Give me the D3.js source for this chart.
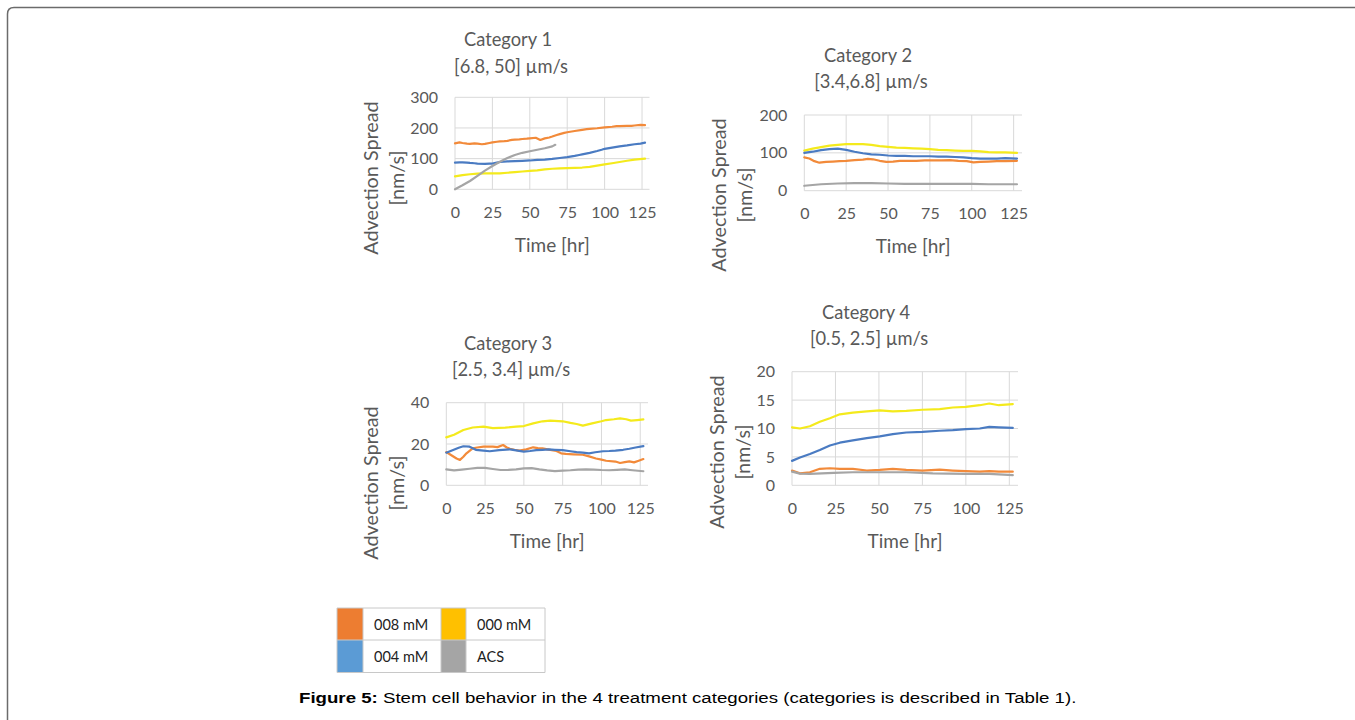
<!DOCTYPE html>
<html><head><meta charset="utf-8">
<script src="https://cdn.jsdelivr.net/npm/d3@7"></script>
<style>body{margin:0;background:#fff;overflow:hidden} svg text{font-family:Lato,"Open Sans",sans-serif}</style>
</head><body><svg id="c" width="1355" height="720"></svg>
<script>
// ---------- data ----------
const timeTicks = [0, 25, 50, 75, 100, 125];
const legendNames = ["008 mM", "000 mM", "004 mM", "ACS"];
const titles = [
  ["Category 1", "[6.8, 50] \u00b5m/s"],
  ["Category 2", "[3.4,6.8] \u00b5m/s"],
  ["Category 3", "[2.5, 3.4] \u00b5m/s"],
  ["Category 4", "[0.5, 2.5] \u00b5m/s"]
];
const yTicks1 = [0, 100, 200, 300];
const yTicks2 = [0, 100, 200];
const yTicks3 = [0, 20, 40];
const yTicks4 = [0, 5, 10, 15, 20];

// Category 1 [time hr, spread nm/s]
const c1Orange = [[0,150],[3,153],[5,151],[8,149],[10,148],[13,150],[15,149],[18,147],[20,148],[23,151],[25,153],[28,155],[30,156],[33,157],[35,158],[38,161],[40,162],[43,163],[45,164],[48,165],[50,166],[54,168],[57,161],[60,166],[63,169],[65,172],[68,177],[70,180],[73,184],[75,186],[80,190],[85,194],[88,196],[90,197],[95,199],[100,202],[105,204],[108,206],[110,206],[115,207],[118,207],[120,208],[124,210],[127,209]];
const c1Blue   = [[0,87],[3,88],[5,88],[8,87],[10,86],[13,85],[15,84],[20,83],[23,84],[25,84],[28,87],[30,89],[35,91],[40,92],[45,93],[50,94],[55,96],[60,97],[65,99],[70,102],[75,105],[80,109],[83,112],[85,114],[90,119],[95,125],[98,129],[100,132],[105,136],[110,140],[115,143],[120,147],[124,149],[127,152]];
const c1Yellow = [[0,42],[5,46],[10,49],[15,51],[20,52],[25,52],[30,52],[35,54],[40,56],[45,58],[50,60],[55,62],[60,65],[65,67],[70,68],[75,69],[80,70],[85,71],[90,73],[95,77],[100,81],[105,85],[110,89],[115,93],[120,97],[127,100]];
const c1Gray   = [[0,0],[5,13],[10,27],[15,44],[20,61],[25,76],[30,90],[35,102],[40,112],[45,119],[50,124],[55,129],[60,134],[65,140],[67,145]];

// Category 2
const c2Orange = [[0,88],[3,85],[6,78],[9,74],[13,76],[17,77],[21,78],[25,79],[30,81],[35,82],[38,84],[41,83],[45,79],[49,76],[53,77],[57,79],[62,79],[67,79],[72,80],[77,80],[82,80],[87,81],[92,79],[97,78],[101,75],[105,76],[110,77],[115,78],[120,78],[127,79]];
const c2Blue   = [[0,100],[5,103],[10,107],[15,110],[20,111],[25,108],[30,103],[35,99],[40,96],[45,95],[50,93],[55,92],[60,92],[65,91],[70,91],[75,91],[80,90],[85,90],[90,89],[95,88],[100,86],[105,85],[110,85],[115,85],[120,86],[127,85]];
const c2Yellow = [[0,106],[5,111],[10,115],[15,119],[20,121],[25,123],[30,123],[35,123],[40,121],[45,118],[50,116],[55,114],[60,113],[65,112],[70,111],[75,110],[80,108],[85,107],[90,106],[95,105],[100,105],[105,104],[110,102],[115,101],[120,101],[127,100]];
const c2Gray   = [[0,13],[5,15],[10,17],[20,19],[30,20],[40,20],[50,19],[60,18],[75,18],[90,18],[100,18],[110,17],[127,17]];

// Category 3
const c3Orange = [[0,16.1],[3,14.7],[6.6,13],[8.8,12.3],[11,13.8],[13,15.5],[17,17.9],[20,18.3],[24,18.7],[30,18.7],[33,18.5],[36.6,19.5],[39,18.3],[41,17.7],[44,17.2],[47,16.8],[51.6,17.4],[56,18.4],[59,18],[62,17.9],[66,17.3],[71,16.6],[74,15.5],[77,15.2],[82,15],[88,14.8],[92,14],[96.5,13],[100,12.4],[103,11.9],[109,11.5],[112,10.8],[115,11.2],[118,11.6],[121,11.1],[124,11.9],[127,12.7]];
const c3Blue   = [[0,15.8],[4,17],[8,18.2],[11,18.9],[15,18.7],[19,17.2],[24,16.8],[28,16.5],[34,17],[41,17.4],[46,16.8],[50,16.3],[54,16.6],[58,17],[62,17.2],[66,17.4],[70,17.2],[75,17],[80,16.5],[84,16.1],[88,15.8],[92,15.5],[96,16],[101,16.5],[105,16.6],[109,16.8],[114,17.2],[118,17.7],[122,18.3],[127,19]];
const c3Yellow = [[0,23.2],[5,24.5],[11,26.8],[17,28],[24,28.4],[30,27.7],[38,27.9],[45,28.4],[50,28.7],[56,30],[62,31],[67,31.3],[75,31],[80,30.2],[84,29.7],[88,28.9],[94,30],[100,31],[103,31.6],[108,32],[112,32.4],[116,32],[119,31.3],[123,31.6],[127,31.9]];
const c3Gray   = [[0,7.7],[5,7.2],[10,7.6],[15,8],[20,8.4],[25,8.4],[30,7.9],[35,7.4],[40,7.5],[45,7.7],[50,8.2],[55,8.3],[60,7.7],[65,7.2],[70,6.9],[75,7.1],[80,7.3],[85,7.6],[90,7.7],[95,7.6],[100,7.4],[105,7.3],[110,7.5],[115,7.7],[120,7.3],[127,6.8]];

// Category 4
const c4Orange = [[0,2.6],[4.6,2.1],[10.3,2.3],[16,2.9],[21.8,3],[27.5,2.9],[35,2.9],[43,2.6],[50.5,2.7],[58,2.9],[65.7,2.7],[75,2.6],[85,2.75],[92.5,2.6],[100,2.5],[108,2.4],[113.5,2.5],[119,2.4],[127,2.4]];
const c4Blue   = [[0,4.3],[4.6,4.9],[10.3,5.5],[16,6.2],[21.8,7],[27.5,7.5],[35,7.9],[43,8.3],[50.5,8.6],[58,9],[65.7,9.3],[75,9.4],[85,9.6],[92.5,9.7],[100,9.9],[108,10],[113.5,10.3],[119,10.2],[127,10.1]];
const c4Yellow = [[0,10.2],[4.6,10],[10.3,10.4],[16,11.2],[21.8,11.8],[27.5,12.5],[35,12.8],[43,13],[50.5,13.2],[58,13],[65.7,13.1],[75,13.3],[85,13.4],[92.5,13.7],[100,13.8],[108,14.1],[113.5,14.4],[119,14.1],[127,14.3]];
const c4Gray   = [[0,2.4],[4.6,2.05],[10.3,2],[24,2.2],[35,2.3],[50.5,2.3],[65.7,2.3],[81,2.1],[100,2],[113.5,2],[127,1.8]];

// ---------- styles & layout ----------
const lineColors = {orange:"#F28A3A", blue:"#4A7BC2", yellow:"#F4EA1C", gray:"#A5A5A5"};
const swatchColors = ["#ED7D31", "#FFC000", "#5B9BD5", "#A5A5A5"];
const textColor = "#595959";
const gridColor = "#D9D9D9";

const svg = d3.select("#c");

// frame
svg.append("path")
  .attr("d", "M7.5,730 V14 Q7.5,7.5 14,7.5 H1365")
  .attr("fill", "none").attr("stroke", "#6b6b6b").attr("stroke-width", 1.5);

const charts = [
  {title: titles[0], yTicks: yTicks1, yMax: 300, series: [c1Orange, c1Blue, c1Yellow, c1Gray],
   x0: 455, x1: 649.5, y0: 97.3, y1: 189.3, tx: 508, ty: 39, ty2: 66, ax: 370, ay: 178},
  {title: titles[1], yTicks: yTicks2, yMax: 200, series: [c2Orange, c2Blue, c2Yellow, c2Gray],
   x0: 804.3, x1: 1022, y0: 115, y1: 190.7, tx: 868, ty: 55, ty2: 81, ax: 718, ay: 195},
  {title: titles[2], yTicks: yTicks3, yMax: 40, series: [c3Orange, c3Blue, c3Yellow, c3Gray],
   x0: 446.3, x1: 648, y0: 402.7, y1: 485.3, tx: 508, ty: 343, ty2: 369, ax: 370, ay: 483},
  {title: titles[3], yTicks: yTicks4, yMax: 20, series: [c4Orange, c4Blue, c4Yellow, c4Gray],
   x0: 792, x1: 1018, y0: 371.7, y1: 485.3, tx: 866, ty: 312, ty2: 338, ax: 716, ay: 452}
];
const colorKeys = ["orange", "blue", "yellow", "gray"];
const drawOrder = [0, 2, 1, 3];

charts.forEach(c => {
  const g = svg.append("g");
  const x = d3.scaleLinear().domain([0, 130]).range([c.x0, c.x1]);
  const y = d3.scaleLinear().domain([0, c.yMax]).range([c.y1, c.y0]);

  // gridlines
  g.selectAll(".hg").data(c.yTicks).join("line")
    .attr("x1", x(0)).attr("x2", x(130)).attr("y1", d => y(d)).attr("y2", d => y(d))
    .attr("stroke", gridColor).attr("stroke-width", 1);
  g.selectAll(".vg").data(timeTicks).join("line")
    .attr("x1", d => x(d)).attr("x2", d => x(d)).attr("y1", y(c.yMax)).attr("y2", y(0))
    .attr("stroke", gridColor).attr("stroke-width", 1);

  // axes (labels only)
  const yAxis = d3.axisLeft(y).tickValues(c.yTicks).tickSize(0).tickPadding(17);
  const ya = g.append("g").attr("transform", `translate(${x(0)},0)`).call(yAxis);
  const xAxis = d3.axisBottom(x).tickValues(timeTicks).tickSize(0).tickPadding(17);
  const xa = g.append("g").attr("transform", `translate(0,${y(0)})`).call(xAxis);
  [ya, xa].forEach(a => {
    a.select(".domain").remove();
    a.selectAll("text").attr("fill", textColor).style("font-size", "16px").style("font-family", "Lato");
  });

  // lines
  const line = d3.line().x(d => x(d[0])).y(d => y(d[1])).curve(d3.curveLinear);
  drawOrder.forEach(i => {
    g.append("path").datum(c.series[i]).attr("d", line)
      .attr("fill", "none").attr("stroke", lineColors[colorKeys[i]])
      .attr("stroke-width", 2.2).attr("stroke-linejoin", "round").attr("stroke-linecap", "round");
  });

  // titles
  g.append("text").attr("x", c.tx).attr("y", c.ty).attr("text-anchor", "middle")
    .attr("dominant-baseline", "central").attr("fill", textColor).style("font-size", "18.3px").text(c.title[0]);
  g.append("text").attr("x", c.tx + 3).attr("y", c.ty2).attr("text-anchor", "middle")
    .attr("dominant-baseline", "central").attr("fill", textColor).style("font-size", "18.3px").text(c.title[1]);

  // axis titles
  g.append("text").attr("x", (c.x0 + c.x1) / 2).attr("y", c.y1 + 55).attr("text-anchor", "middle")
    .attr("dominant-baseline", "central").attr("fill", textColor).style("font-size", "19px").text("Time [hr]");
  g.append("text").attr("transform", `translate(${c.ax},${c.ay}) rotate(-90)`).attr("text-anchor", "middle")
    .attr("dominant-baseline", "central").attr("fill", textColor).style("font-size", "19.8px").text("Advection Spread");
  g.append("text").attr("transform", `translate(${c.ax + 26},${c.ay}) rotate(-90)`).attr("text-anchor", "middle")
    .attr("dominant-baseline", "central").attr("fill", textColor).style("font-size", "19.8px").text("[nm/s]");
});

// legend table
const lg = svg.append("g");
const colX = [337, 363, 441, 466, 545];
const rowY = [608, 640, 672.5];
const cells = [[0,0],[1,0],[0,1],[1,1]];
cells.forEach((rc, i) => {
  const cx = rc[0] * 2, r = rc[1];
  lg.append("rect").attr("x", colX[cx]).attr("y", rowY[r]).attr("width", colX[cx+1] - colX[cx])
    .attr("height", rowY[r+1] - rowY[r]).attr("fill", swatchColors[i]);
  lg.append("rect").attr("x", colX[cx+1]).attr("y", rowY[r]).attr("width", colX[cx+2] - colX[cx+1])
    .attr("height", rowY[r+1] - rowY[r]).attr("fill", "#fff");
  lg.append("text").attr("x", colX[cx+1] + 11).attr("y", (rowY[r] + rowY[r+1]) / 2)
    .attr("dominant-baseline", "central").attr("fill", "#222").style("font-size", "14.5px").text(legendNames[i]);
});
lg.selectAll(".gh").data(rowY).join("line").attr("x1", colX[0]).attr("x2", colX[4])
  .attr("y1", d => d).attr("y2", d => d).attr("stroke", "#c8c8c8");
lg.selectAll(".gv").data(colX).join("line").attr("y1", rowY[0]).attr("y2", rowY[2])
  .attr("x1", d => d).attr("x2", d => d).attr("stroke", "#c8c8c8");

// caption (stretched horizontally to the reference width)
const cap = svg.append("text").attr("x", 0).attr("y", 0)
  .style("font-family", "'Liberation Sans', Arial, sans-serif").style("font-size", "15px").attr("fill", "#000");
cap.append("tspan").style("font-weight", "bold").text("Figure 5:");
cap.append("tspan").text(" Stem cell behavior in the 4 treatment categories (categories is described in Table 1).");
const capW = cap.node().getComputedTextLength();
cap.attr("transform", `translate(299,703) scale(${778 / capW},1)`);
</script></body></html>
